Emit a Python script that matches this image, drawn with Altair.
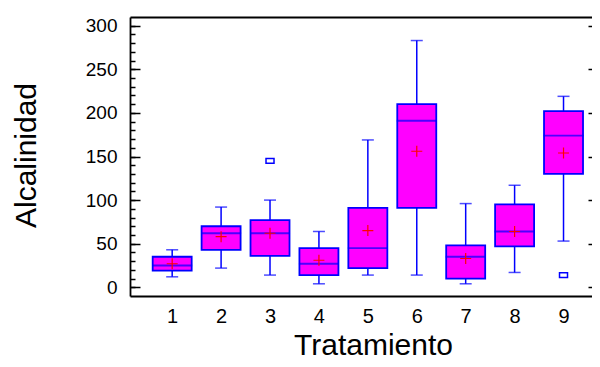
import altair as alt
import pandas as pd

treat = [1, 2, 3, 4, 5, 6, 7, 8, 9]
lo = [12, 22, 14, 4, 14, 14, 4, 17, 53]
q1 = [19, 43, 36, 14, 22, 91, 10, 47, 130]
med = [25, 62, 62, 27, 45, 191, 35, 64, 174]
q3 = [35, 70, 77, 45, 91, 210, 48, 95, 202]
hi = [43, 92, 100, 64, 169, 283, 96, 117, 219]
mean = [27, 58, 62, 31, 65, 156, 33, 64, 154]

out_treat = [3, 9]
out_val = [145, 14]

x_ticks = [1, 2, 3, 4, 5, 6, 7, 8, 9]
y_major = [0, 50, 100, 150, 200, 250, 300]
y_minor = list(range(0, 310, 10))

df = pd.DataFrame({"t": treat, "lo": lo, "q1": q1, "med": med, "q3": q3, "hi": hi, "mean": mean})
dout = pd.DataFrame({"t": out_treat, "v": out_val})

W, H = 462, 279
FONT = "Liberation Sans"
BLUE = "#0000ff"

xs = alt.Scale(domain=[0.24, 9.48], nice=False, zero=False)
ys = alt.Scale(domain=[-10, 310], nice=False, zero=False)

base = alt.Chart(df)

whisk = base.mark_rule(color=BLUE, strokeWidth=1.5).encode(
    x=alt.X("t:Q", scale=xs, axis=alt.Axis(
        orient="bottom", values=x_ticks, ticks=False, domain=True, domainColor="black",
        domainWidth=1.8, labelFont=FONT, labelFontSize=20, labelColor="black",
        labelBaseline="alphabetic", labelPadding=26, title="Tratamiento",
        titleFont=FONT, titleFontSize=30, titleFontWeight="normal", titleColor="black",
        titleX=243, titleY=58, titleAlign="center", titleBaseline="alphabetic")),
    y=alt.Y("lo:Q", scale=ys, axis=alt.Axis(
        orient="left", values=y_major, ticks=False, domain=True, domainColor="black",
        domainWidth=1.8, labelFont=FONT, labelFontSize=19, labelColor="black",
        labelPadding=13, labelBaseline="middle", title="Alcalinidad",
        titleFont=FONT, titleFontSize=30, titleFontWeight="normal", titleColor="black",
        titleX=-95, titleY=138, titleAlign="center", titleBaseline="alphabetic")),
    y2="hi:Q",
)

box = base.mark_bar(size=39, color="#ff00ff", stroke=BLUE, strokeWidth=1.8).encode(
    x=alt.X("t:Q", scale=xs, axis=None),
    y=alt.Y("q1:Q", scale=ys, axis=None),
    y2="q3:Q",
)

cap_lo = base.mark_tick(color=BLUE, size=12, thickness=1.5, orient="horizontal").encode(
    x=alt.X("t:Q", scale=xs, axis=None), y=alt.Y("lo:Q", scale=ys, axis=None))
cap_hi = base.mark_tick(color=BLUE, size=12, thickness=1.5, orient="horizontal").encode(
    x=alt.X("t:Q", scale=xs, axis=None), y=alt.Y("hi:Q", scale=ys, axis=None))
median = base.mark_tick(color=BLUE, size=40, thickness=1.8, orient="horizontal").encode(
    x=alt.X("t:Q", scale=xs, axis=None), y=alt.Y("med:Q", scale=ys, axis=None))

meanpt = base.mark_point(shape="M-1,0H1M0,-1V1", size=121, stroke="#ff0000",
                         strokeWidth=1.2, filled=False, opacity=1).encode(
    x=alt.X("t:Q", scale=xs, axis=None), y=alt.Y("mean:Q", scale=ys, axis=None))

outl = alt.Chart(dout).mark_point(shape="M-1,-0.6H1V0.6H-1Z", size=64, stroke=BLUE,
                                  strokeWidth=1.5, fill="white", filled=False, opacity=1).encode(
    x=alt.X("t:Q", scale=xs, axis=None), y=alt.Y("v:Q", scale=ys, axis=None))

# inward ticks on left (minor + major) and top frame
minor_ax = base.mark_point(opacity=0).encode(
    x=alt.X("t:Q", scale=xs, axis=alt.Axis(orient="top", ticks=False, labels=False,
                                            domain=True, domainColor="black", domainWidth=1.8,
                                            title=None)),
    y=alt.Y("hi:Q", scale=ys, axis=alt.Axis(orient="right", offset=-W, values=y_minor,
                                             tickSize=5, tickWidth=1.5, tickColor="black",
                                             labels=False, domain=False, title=None)))
major_ax = base.mark_point(opacity=0).encode(
    x=alt.X("t:Q", scale=xs, axis=None),
    y=alt.Y("hi:Q", scale=ys, axis=alt.Axis(orient="right", offset=-W, values=y_major,
                                             tickSize=10, tickWidth=1.5, tickColor="black",
                                             labels=False, domain=False, title=None)))
# inward ticks on right edge
right_ax = base.mark_point(opacity=0).encode(
    x=alt.X("t:Q", scale=xs, axis=None),
    y=alt.Y("hi:Q", scale=ys, axis=alt.Axis(orient="left", offset=-W, values=y_major,
                                             tickSize=4, tickWidth=1.5, tickColor="black",
                                             labels=False, domain=False, title=None)))

chart = alt.layer(whisk, box, cap_lo, cap_hi, median, meanpt, outl, minor_ax, major_ax, right_ax).resolve_axis(
    x="independent", y="independent"
).properties(
    width=W, height=H, autosize="none",
    padding={"left": 122, "top": 9, "right": 0, "bottom": 63},
    background="white",
).configure_view(stroke=None).configure_axis(grid=False)

chart.save("out.html", embed_options={"renderer": "svg", "actions": False})
